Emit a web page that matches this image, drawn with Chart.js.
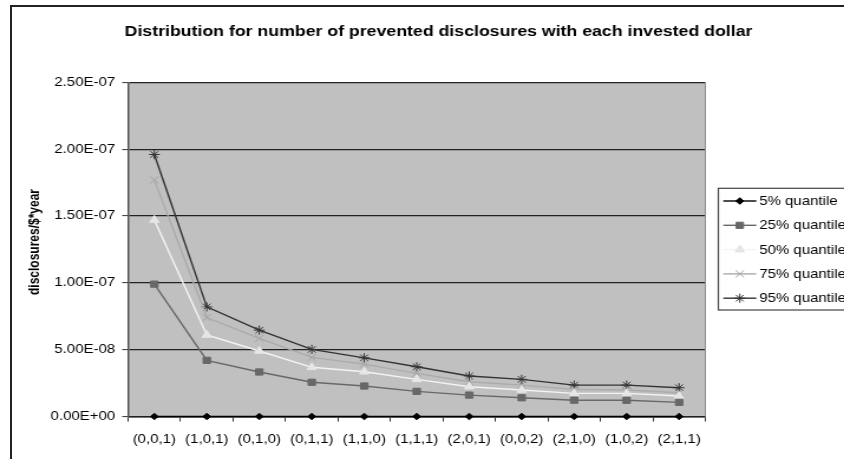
<!DOCTYPE html>
<html>
<head>
<meta charset="utf-8">
<script src="https://cdn.jsdelivr.net/npm/chart.js@4/dist/chart.umd.min.js"></script>
<style>
  html, body { margin: 0; padding: 0; background: #fff; overflow: hidden; width: 844px; height: 459px; }
  #wrap { position: absolute; left: 0; top: 0; width: 737px; height: 480px;
          transform: scaleX(1.1805); transform-origin: 0 0; }
  #frame { position: absolute; left: 10px; top: 5px; width: 900px; height: 500px;
           border-left: 2px solid #222; border-top: 2px solid #222; pointer-events: none; }
</style>
</head>
<body>
<div id="wrap"><canvas id="chart" width="737" height="480"></canvas></div>
<div id="frame"></div>
<script>
// Investment combinations on the x axis
const categories = ['(0,0,1)', '(1,0,1)', '(0,1,0)', '(0,1,1)', '(1,1,0)', '(1,1,1)',
                    '(2,0,1)', '(0,0,2)', '(2,1,0)', '(1,0,2)', '(2,1,1)'];

// Prevented disclosures per dollar and year, by quantile
const q05 = [0, 0, 0, 0, 0, 0, 0, 0, 0, 0, 0];
const q25 = [9.9e-8, 4.2e-8, 3.33e-8, 2.56e-8, 2.28e-8, 1.88e-8, 1.6e-8, 1.4e-8, 1.22e-8, 1.21e-8, 1.06e-8];
const q50 = [1.47e-7, 6.1e-8, 4.9e-8, 3.68e-8, 3.35e-8, 2.78e-8, 2.23e-8, 1.98e-8, 1.73e-8, 1.73e-8, 1.53e-8];
const q75 = [1.77e-7, 7.4e-8, 5.84e-8, 4.42e-8, 3.92e-8, 3.23e-8, 2.6e-8, 2.35e-8, 2.03e-8, 1.98e-8, 1.78e-8];
const q95 = [1.96e-7, 8.2e-8, 6.46e-8, 5.02e-8, 4.39e-8, 3.72e-8, 3.03e-8, 2.78e-8, 2.35e-8, 2.35e-8, 2.15e-8];

const seriesNames = ['5% quantile', '25% quantile', '50% quantile', '75% quantile', '95% quantile'];
const yTickLabels = ['0.00E+00', '5.00E-08', '1.00E-07', '1.50E-07', '2.00E-07', '2.50E-07'];
const chartTitle = 'Distribution for number of prevented disclosures with each invested dollar';
const yAxisTitle = 'disclosures/$*year';

// Layout (canvas units; the canvas is shown slightly widened by CSS)
const FONT = 'Liberation Sans, Arial, Helvetica, sans-serif';
const W = 737, H = 480;
const AREA = { left: 108.5, right: 597.5, top: 82.3, bottom: 416.5 };

function series(label, data, line, marker, style, radius) {
  return {
    label, data,
    borderColor: line,
    backgroundColor: marker,
    pointBackgroundColor: marker,
    pointBorderColor: marker,
    pointStyle: style,
    pointRadius: radius,
    pointHoverRadius: radius,
    pointBorderWidth: 1,
    borderWidth: 1.4,
    tension: 0,
    clip: false
  };
}

const datasets = [
  series(seriesNames[0], q05, '#000000', '#000000', 'rectRot', 3.3),
  series(seriesNames[1], q25, '#686868', '#686868', 'rect', 4.4),
  series(seriesNames[2], q50, '#f4f4f4', '#e6e6e6', 'triangle', 4.6),
  series(seriesNames[3], q75, '#ababab', '#a4a4a4', 'crossRot', 5),
  series(seriesNames[4], q95, '#333333', '#333333', 'star', 4.6)
];

// Grey plot background and the plot's right edge
const plotFrame = {
  id: 'plotFrame',
  beforeDraw(chart) {
    const { ctx, chartArea: a } = chart;
    ctx.save();
    ctx.fillStyle = '#c0c0c0';
    ctx.fillRect(a.left, a.top, a.right - a.left, a.bottom - a.top);
    ctx.restore();
  },
  beforeDatasetsDraw(chart) {
    const { ctx, chartArea: a } = chart;
    ctx.save();
    ctx.strokeStyle = '#888';
    ctx.lineWidth = 1;
    ctx.beginPath();
    ctx.moveTo(a.right, a.top);
    ctx.lineTo(a.right, a.bottom);
    ctx.stroke();
    ctx.restore();
  }
};

// Chart heading, centred over the whole chart box (plot plus legend)
const heading = {
  id: 'heading',
  afterDraw(chart) {
    const { ctx } = chart;
    ctx.save();
    ctx.font = 'bold 15px ' + FONT;
    ctx.fillStyle = '#000';
    ctx.textAlign = 'center';
    ctx.textBaseline = 'middle';
    ctx.fillText(chartTitle, 371.5, 32);
    ctx.restore();
  }
};

// Vertical axis title
const yTitle = {
  id: 'yTitle',
  afterDraw(chart) {
    const { ctx } = chart;
    ctx.save();
    ctx.translate(29.7, 242);
    ctx.rotate(-Math.PI / 2);
    ctx.font = 'bold 12px ' + FONT;
    ctx.fillStyle = '#000';
    ctx.textAlign = 'center';
    ctx.textBaseline = 'middle';
    ctx.fillText(yAxisTitle, 0, 0);
    ctx.restore();
  }
};

// Boxed legend to the right of the plot
const sideLegend = {
  id: 'sideLegend',
  afterDraw(chart) {
    const { ctx } = chart;
    const box = { x: 608.5, y: 188.3, w: 160, h: 121.7 };
    ctx.save();
    ctx.fillStyle = '#fff';
    ctx.fillRect(box.x, box.y, box.w, box.h);
    ctx.strokeStyle = '#444';
    ctx.lineWidth = 1.2;
    ctx.strokeRect(box.x, box.y, box.w, box.h);
    ctx.font = '12.7px ' + FONT;
    ctx.textAlign = 'left';
    ctx.textBaseline = 'middle';
    chart.data.datasets.forEach((ds, i) => {
      const y = 201 + i * 24.3;
      ctx.strokeStyle = ds.borderColor;
      ctx.lineWidth = ds.borderWidth;
      ctx.beginPath();
      ctx.moveTo(612.7, y);
      ctx.lineTo(640.7, y);
      ctx.stroke();
      ctx.fillStyle = ds.pointBackgroundColor;
      ctx.strokeStyle = ds.pointBorderColor;
      ctx.lineWidth = ds.pointBorderWidth;
      Chart.helpers.drawPoint(ctx, { pointStyle: ds.pointStyle, radius: ds.pointRadius, rotation: 0, borderWidth: 1 }, 626.7, y);
      ctx.fillStyle = '#000';
      ctx.fillText(ds.label, 643.2, y + 0.5);
    });
    ctx.restore();
  }
};

new Chart(document.getElementById('chart'), {
  type: 'line',
  data: { labels: categories, datasets },
  plugins: [plotFrame, heading, yTitle, sideLegend],
  options: {
    responsive: false,
    animation: false,
    devicePixelRatio: 1,
    layout: { padding: { left: 6, right: W - AREA.right, top: AREA.top, bottom: 0 } },
    plugins: {
      legend: { display: false },
      tooltip: { enabled: false },
      title: { display: false }
    },
    scales: {
      x: {
        type: 'category',
        offset: true,
        afterFit(scale) { scale.height = H - AREA.bottom; },
        grid: { display: true, offset: true, drawOnChartArea: false, drawTicks: true,
                tickLength: 5, tickColor: '#333', tickWidth: 1 },
        border: { display: true, color: '#222', width: 1.6 },
        ticks: { color: '#000', font: { family: FONT, size: 12.7 }, padding: 10.4,
                 maxRotation: 0, autoSkip: false }
      },
      y: {
        min: 0,
        max: 2.5e-7,
        afterFit(scale) { scale.width = AREA.left - 6; },
        ticks: {
          stepSize: 5e-8,
          color: '#000',
          padding: 6,
          font: { family: FONT, size: 12.7 },
          callback: (v, i) => yTickLabels[i]
        },
        grid: { color: '#222', lineWidth: 1.2, drawTicks: true, tickLength: 5, tickColor: '#333', tickWidth: 1 },
        border: { display: true, color: '#555', width: 1.5 }
      }
    }
  }
});
</script>
</body>
</html>
